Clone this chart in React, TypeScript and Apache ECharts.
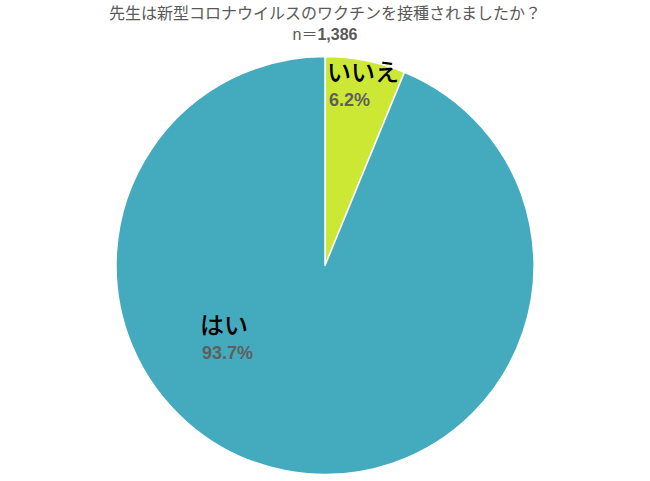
import React, { useEffect, useRef } from "react";
import * as echarts from "echarts";

const titleText = "先生は新型コロナウイルスのワクチンを接種されましたか？";
const nPrefix = "n＝";
const nValue = "1,386";
const categories = ["いいえ", "はい"];
const values = [6.2, 93.7];
const colors = ["#CDE834", "#44ABBF"];

export default function App() {
  const ref = useRef<HTMLDivElement>(null);
  useEffect(() => {
    const chart = echarts.init(ref.current!, null, { renderer: "svg" });
    const font = "'Liberation Sans', 'Noto Sans CJK JP', sans-serif";
    const labelPos = [
      { x: 327, y: 72, py: 100 },
      { x: 200, y: 325, py: 353 },
    ];
    chart.setOption({
      animation: false,
      backgroundColor: "#ffffff",
      title: {
        text: titleText,
        subtext: `{a|${nPrefix}}{b|${nValue}}`,
        left: "center",
        top: 0,
        itemGap: 5,
        textStyle: { fontSize: 16, fontWeight: "normal", color: "#595959", fontFamily: font },
        subtextStyle: {
          rich: {
            a: { fontSize: 16, color: "#595959", fontFamily: font },
            b: { fontSize: 16, color: "#595959", fontWeight: "bold", fontFamily: font },
          },
        },
      },
      series: [
        {
          type: "pie",
          center: [325, 265.5],
          radius: [0, 209],
          startAngle: 90,
          clockwise: true,
          label: { show: false },
          labelLine: { show: false },
          itemStyle: { borderColor: "#ffffff", borderWidth: 1.5 },
          data: categories.map((c, i) => ({ name: c, value: values[i], itemStyle: { color: colors[i] } })),
        },
      ],
      graphic: {
        elements: categories.flatMap((c, i) => [
          {
            type: "text",
            z: 100,
            x: labelPos[i].x,
            y: labelPos[i].y,
            style: { text: c, fontSize: 24, fontWeight: 500, fill: "#000000", fontFamily: font, verticalAlign: "middle", align: "left" },
          },
          {
            type: "text",
            z: 100,
            x: labelPos[i].x + 2,
            y: labelPos[i].py,
            style: {
              text: values[i].toFixed(1) + "%",
              fontSize: 18,
              fontWeight: "bold",
              fill: "#5f5f5f",
              fontFamily: font,
              verticalAlign: "middle",
              align: "left",
            },
          },
        ]),
      },
    });
    return () => chart.dispose();
  }, []);
  return <div ref={ref} style={{ position: "fixed", left: 0, top: 0, width: 650, height: 481 }} />;
}
